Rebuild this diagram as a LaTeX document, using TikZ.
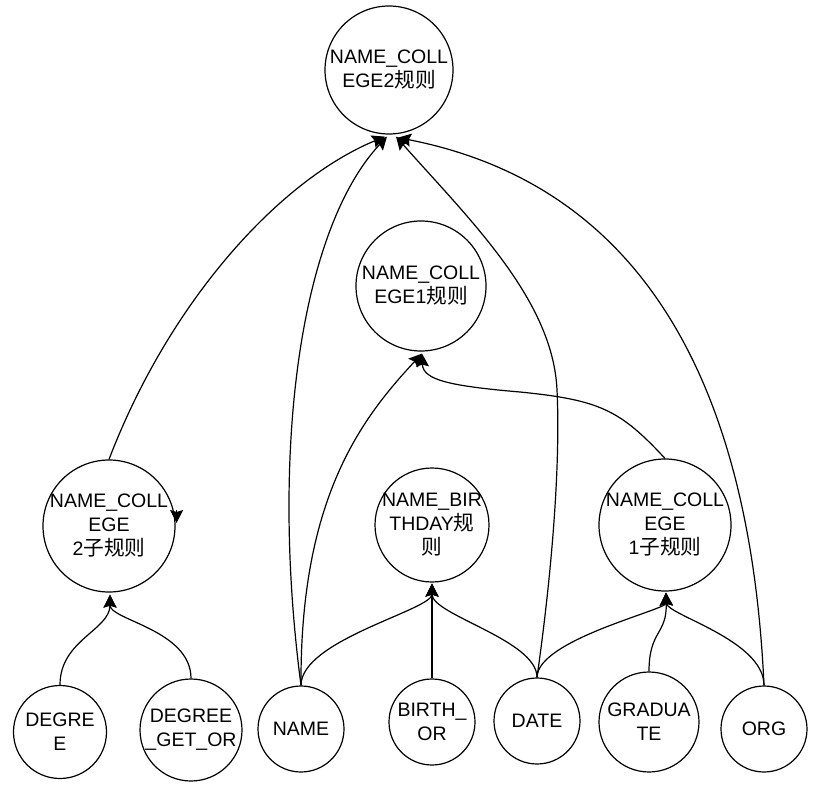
\documentclass[tikz,border=0pt]{standalone}
\usepackage{fontspec}
\setmainfont{Liberation Sans}
\newfontfamily\cjk[Scale=1.06]{Noto Sans CJK SC}
\usetikzlibrary{arrows.meta,calc}
\begin{document}
\begin{tikzpicture}[x=1pt,y=-1pt,
  circ/.style={draw, circle, inner sep=0pt, line width=1.2pt},
  lab/.style={align=center, font=\fontsize{19.5pt}{24pt}\selectfont, inner sep=0pt},
  edge/.style={line width=1.2pt},
  arr/.style={edge, -{Stealth[length=13pt,width=13pt,inset=2pt]}}
]
\useasboundingbox (0,0) rectangle (814,786);
% nodes
\node[circ, minimum size=128pt, label={[lab]center:{NAME\_COLL\\EGE2{\cjk 规则}}}] (nc2) at (389,70) {};
\node[circ, minimum size=130pt, label={[lab]center:{NAME\_COLL\\EGE1{\cjk 规则}}}] (nc1) at (421,286) {};
\node[circ, minimum size=132pt, label={[lab]center:{NAME\_COLL\\EGE\\2{\cjk 子规则}}}] (nc2s) at (109,526) {};
\node[circ, minimum size=114pt, label={[lab]center:{NAME\_BIR\\THDAY{\cjk 规}\\{\cjk 则}}}] (nb) at (432,525) {};
\node[circ, minimum size=132pt, label={[lab]center:{NAME\_COLL\\EGE\\1{\cjk 子规则}}}] (nc1s) at (665,525) {};
\node[circ, minimum size=93pt, label={[lab]center:{DEGRE\\E}}] (deg) at (60,732) {};
\node[circ, minimum size=102pt, label={[lab]center:{DEGREE\\\_GET\_OR}}] (dgo) at (191,730) {};
\node[circ, minimum size=86pt, label={[lab]center:{NAME}}] (name) at (301,729) {};
\node[circ, minimum size=86pt, label={[lab]center:{BIRTH\_\\OR}}] (birth) at (432,722) {};
\node[circ, minimum size=86pt, label={[lab]center:{DATE}}] (date) at (537,721) {};
\node[circ, minimum size=100pt, label={[lab]center:{GRADUA\\TE}}] (grad) at (649,722) {};
\node[circ, minimum size=86pt, label={[lab]center:{ORG}}] (org) at (764,729) {};
% arrow tip coordinates
\coordinate (tA) at ($(nc2.south)+(-4,2)$);
\coordinate (tB) at ($(nc2.south)+(-2,2)$);
\coordinate (tC) at ($(nc2.south)+(7,2)$);
\coordinate (tD) at ($(nc2.south)+(9,3)$);
\coordinate (tE) at ($(nc1.south)+(1,2)$);
\coordinate (tNB) at ($(nb.south)+(0,1)$);
\coordinate (tS1) at ($(nc1s.south)+(1,1)$);
\coordinate (tS2) at ($(nc2s.south)+(1,2)$);
\coordinate (selfB) at ($(nc2s.east)+(1,-16)$);
\coordinate (selfT) at ($(nc2s.east)+(1,-3)$);
% edges to NAME_COLLEGE2
\draw[arr] (nc2s.north) .. controls (170,300) and (280,180) .. (tA);
\draw[arr] (name.north) .. controls (270,450) and (300,230) .. (tB);
\draw[arr] (date.north) .. controls (555,550) and (560,450) .. (557,390) .. controls (553,300) and (470,220) .. (tC);
\draw[arr] (org.north) .. controls (750,380) and (640,185) .. (tD);
% edges to NAME_COLLEGE1
\draw[arr] (nc1s.north) .. controls (620,410) and (600,400) .. (520,392) .. controls (450,386) and (423,380) .. (tE);
\draw[arr] (name.north) .. controls (300,500) and (360,420) .. (tE);
% edges to NAME_BIRTHDAY
\draw[arr] (name.north) .. controls (301,640) and (432,610) .. (tNB);
\draw[arr] (birth.north) -- (tNB);
\draw[arr] (date.north) .. controls (537,640) and (432,615) .. (tNB);
% edges to NAME_COLLEGE 1 sub
\draw[arr] (date.north) .. controls (537,640) and (666,610) .. (tS1);
\draw[arr] (grad.north) .. controls (649,630) and (667,635) .. (tS1);
\draw[arr] (org.north) .. controls (764,640) and (667,615) .. (tS1);
% edges to NAME_COLLEGE 2 sub
\draw[arr] (deg.north) .. controls (60,640) and (110,630) .. (tS2);
\draw[arr] (dgo.north) .. controls (191,630) and (110,620) .. (tS2);
% stray arrowhead
\draw[arr] (selfB) -- (selfT);
\end{tikzpicture}
\end{document}
